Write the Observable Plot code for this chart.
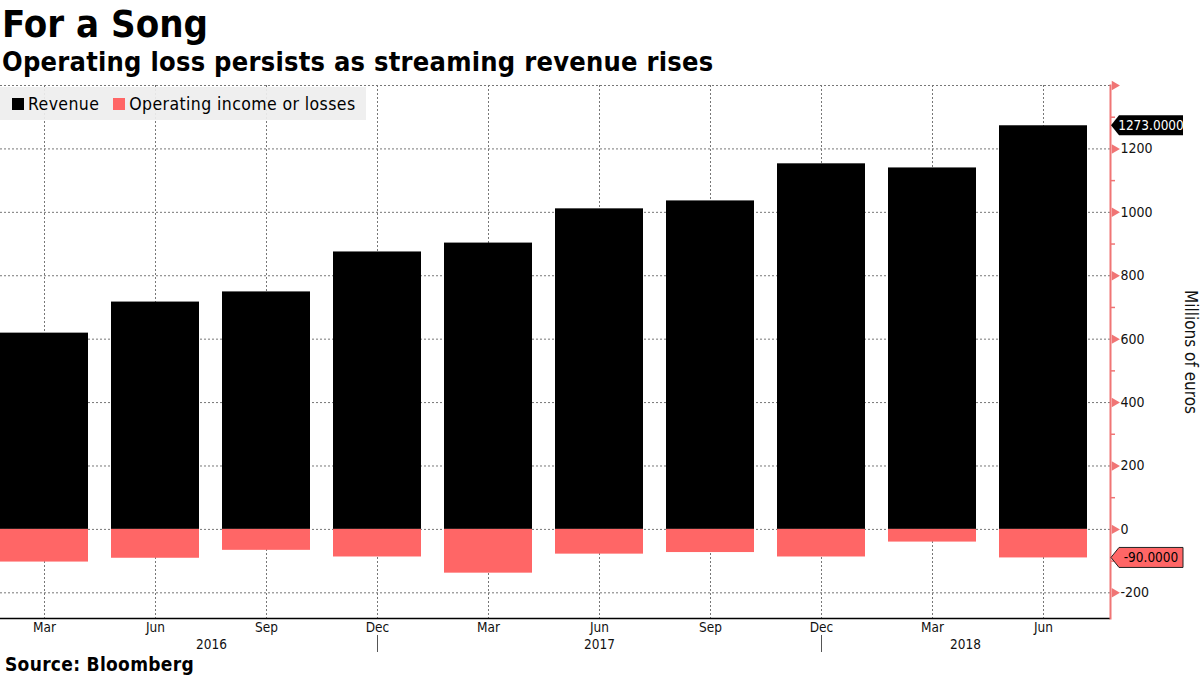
<!DOCTYPE html>
<html>
<head>
<meta charset="utf-8">
<script src="https://cdn.jsdelivr.net/npm/d3@7"></script>
<script src="https://cdn.jsdelivr.net/npm/@observablehq/plot@0.6"></script>
<style>
  html, body { margin: 0; padding: 0; background: #fff; }
  #wrap { position: relative; width: 1200px; height: 675px; overflow: hidden; font-family: "DejaVu Sans Condensed", "DejaVu Sans", sans-serif; color: #000; }
  #title { position: absolute; left: 2px; top: 5px; font-size: 38px; line-height: 38px; font-weight: bold; white-space: nowrap; }
  #subtitle { position: absolute; left: 2px; top: 49px; font-size: 27px; line-height: 26px; font-weight: bold; white-space: nowrap; letter-spacing: 0.25px; }
  #chart { position: absolute; left: 0; top: 80px; }
  #legend { position: absolute; left: 0; top: 87px; width: 366px; height: 33px; background: rgba(238,238,238,0.92); display: flex; align-items: center; font-size: 17.5px; letter-spacing: 0.4px; }
  #legend .sw { display: inline-block; width: 12px; height: 12px; margin-right: 4px; }
  #legend .item { display: flex; align-items: center; }
  #source { position: absolute; left: 5px; top: 655px; font-size: 19px; line-height: 19px; font-weight: bold; letter-spacing: 0.3px; }
</style>
</head>
<body>
<div id="wrap">
  <div id="title">For a Song</div>
  <div id="subtitle">Operating loss persists as streaming revenue rises</div>
  <div id="chart"></div>
  <div id="legend">
    <span class="item" style="margin-left:12px"><span class="sw" style="background:#000"></span>Revenue</span>
    <span class="item" style="margin-left:14px"><span class="sw" style="background:#ff6666"></span>Operating income or losses</span>
  </div>
  <div id="source">Source: Bloomberg</div>
</div>
<script>
// ---- data ----
const quarters = ["Mar 2016", "Jun 2016", "Sep 2016", "Dec 2016", "Mar 2017", "Jun 2017", "Sep 2017", "Dec 2017", "Mar 2018", "Jun 2018"];
const revenue = [619, 717, 749, 875, 903, 1011, 1036, 1153, 1140, 1273];
const operatingIncome = [-103, -91, -66, -87, -138, -78, -73, -87, -40, -90];
const yLabelTicks = [-200, 0, 200, 400, 600, 800, 1000, 1200];
const yGridTicks = [-200, 0, 200, 400, 600, 800, 1000, 1200, 1400];
const yMinorTicks = [-100, 100, 300, 500, 700, 900, 1100, 1300];
const yearSeparators = ["Dec 2016", "Dec 2017"];
const yearLabels = ["2016", "2017", "2018"];
const yearAnchors = ["Jun 2016", "Jun 2017", "Mar 2018"];
const yDomain = [-281, 1400];

const red = "#ff6666";
const axisRed = "#f07575";

const rows = quarters.map((q, i) => ({q, revenue: revenue[i], op: operatingIncome[i]}));

const yearOffsets = [56, 0, 33];

const plot = Plot.plot({
  width: 1200,
  height: 595,
  marginTop: 5,
  marginLeft: 0,
  marginRight: 90,
  marginBottom: 57,
  style: {fontFamily: "DejaVu Sans Condensed, DejaVu Sans, sans-serif", fontSize: "13px", color: "#111", background: "transparent", overflow: "visible"},
  x: {type: "band", domain: quarters, paddingInner: 0.207, paddingOuter: 0.1035, align: 0, label: null},
  y: {domain: yDomain, label: null},
  marks: [
    Plot.gridY(yGridTicks, {stroke: "#777", strokeOpacity: 1, strokeDasharray: "2,2"}),
    Plot.gridX(quarters, {stroke: "#777", strokeOpacity: 1, strokeDasharray: "2,2"}),
    Plot.barY(rows, {x: "q", y: "revenue", fill: "#000"}),
    Plot.barY(rows, {x: "q", y: "op", fill: red}),
    Plot.ruleY([yDomain[0]], {stroke: "#000", strokeWidth: 1.5}),
    Plot.frame({anchor: "right", stroke: axisRed, strokeWidth: 2}),
    Plot.axisY(yMinorTicks, {anchor: "right", tickSize: 4, tickFormat: () => "", stroke: axisRed, strokeWidth: 1.5, label: null}),
    Plot.dot(yGridTicks, {y: d => d, frameAnchor: "right", symbol: "triangle", rotate: 90, r: 3.5, fill: axisRed, dx: 4}),
    Plot.axisY(yLabelTicks, {anchor: "right", tickSize: 0, tickPadding: 10, fontSize: 14, tickFormat: d => String(d), label: null}),
    Plot.axisX(quarters, {tickSize: 0, tickPadding: 4, fontSize: 13.5, tickFormat: d => d.split(" ")[0], label: null}),
    Plot.axisX(yearSeparators, {tickSize: 17, dy: 17, tickFormat: () => "", stroke: "#555", label: null}),
    ...yearLabels.map((yr, i) => Plot.text([yr], {x: () => yearAnchors[i], text: d => d, frameAnchor: "bottom", dy: 26, dx: yearOffsets[i], fontSize: 13.5, lineAnchor: "middle"})),
    Plot.text(["Millions of euros"], {frameAnchor: "right", textAnchor: "middle", rotate: 90, dx: 80, fontSize: 17})
  ]
});

document.getElementById("chart").appendChild(plot);

// value tags on the right axis, positioned through the plot's y scale
const ys = plot.scale("y");
const svg = d3.select(plot);
const ax = 1110;
const tags = [
  {value: revenue[revenue.length - 1], fill: "#000", stroke: "none", color: "#fff"},
  {value: operatingIncome[operatingIncome.length - 1], fill: red, stroke: "#222", color: "#000"}
];
for (const t of tags) {
  const y = ys.apply(t.value);
  const g = svg.append("g");
  g.append("path")
    .attr("d", `M${ax + 1},${y} L${ax + 9},${y - 10} L${ax + 73},${y - 10} L${ax + 73},${y + 10} L${ax + 9},${y + 10} Z`)
    .attr("fill", t.fill).attr("stroke", t.stroke).attr("stroke-width", 1);
  g.append("text")
    .attr("x", ax + 41).attr("y", y).attr("dy", "0.35em")
    .attr("text-anchor", "middle")
    .attr("fill", t.color)
    .attr("font-size", 13.5)
    .text(t.value.toFixed(4));
}
</script>
</body>
</html>
